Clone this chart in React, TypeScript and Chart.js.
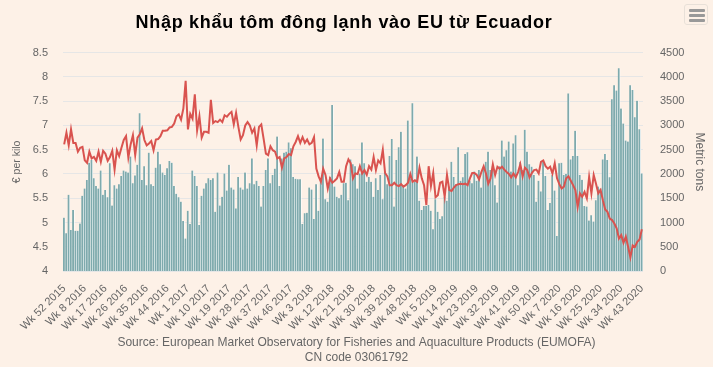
import React, { useEffect, useRef } from 'react';
import { Chart, registerables } from 'chart.js';

Chart.register(...registerables);

const FONT = '"Liberation Sans", Arial, Helvetica, sans-serif';
const TITLE = 'Nhập khẩu tôm đông lạnh vào EU từ Ecuador';
const SOURCE_LINES = [
  'Source: European Market Observatory for Fisheries and Aquaculture Products (EUMOFA)',
  'CN code 03061792',
];
const LEFT_AXIS_TITLE = '€ per kilo';
const RIGHT_AXIS_TITLE = 'Metric tons';

// Weekly categories: Wk 52 2015 ... Wk 43 2020
const START_WEEK = 52;
const START_YEAR = 2015;
const END_WEEK = 43;
const END_YEAR = 2020;
const WEEKS_PER_YEAR: Record<number, number> = { 2015: 53, 2016: 52, 2017: 52, 2018: 52, 2019: 52, 2020: 53 };

function buildWeeks(): string[] {
  const out: string[] = [];
  let w = START_WEEK;
  let y = START_YEAR;
  while (!(y === END_YEAR && w > END_WEEK)) {
    out.push(`Wk ${w} ${y}`);
    w += 1;
    if (w > WEEKS_PER_YEAR[y]) {
      w = 1;
      y += 1;
    }
  }
  return out;
}
const weeks = buildWeeks();

const tickLabels = [
  'Wk 52 2015', 'Wk 8 2016', 'Wk 17 2016', 'Wk 26 2016', 'Wk 35 2016', 'Wk 44 2016',
  'Wk 1 2017', 'Wk 10 2017', 'Wk 19 2017', 'Wk 28 2017', 'Wk 37 2017', 'Wk 46 2017',
  'Wk 3 2018', 'Wk 12 2018', 'Wk 21 2018', 'Wk 30 2018', 'Wk 39 2018', 'Wk 48 2018',
  'Wk 5 2019', 'Wk 14 2019', 'Wk 23 2019', 'Wk 32 2019', 'Wk 41 2019', 'Wk 50 2019',
  'Wk 7 2020', 'Wk 16 2020', 'Wk 25 2020', 'Wk 34 2020', 'Wk 43 2020',
];

const leftTicks = [4, 4.5, 5, 5.5, 6, 6.5, 7, 7.5, 8, 8.5];
const rightTicks = [0, 500, 1000, 1500, 2000, 2500, 3000, 3500, 4000, 4500];

// Import volume, metric tons (bars, right axis)
const volumeTons = [
  1100, 780, 1570, 845, 1260, 830, 830, 980, 1550, 1700,
  1875, 2230, 2290, 1910, 1750, 1700, 2070, 1570, 1670, 1520,
  2220, 1350, 1770, 1700, 1790, 1960, 2070, 2050, 2030, 2360,
  1810, 1970, 2190, 3250, 1875, 2160, 1770, 2440, 1790, 1750,
  2130, 2460, 2200, 2030, 1980, 2120, 2270, 2230, 1750, 1590,
  1520, 1430, 1030, 670, 1240, 970, 2070, 1960, 1750, 950,
  1550, 1700, 1810, 1910, 1875, 1910, 1220, 2030, 1350, 1530,
  2010, 1660, 2190, 1720, 1680, 1290, 1940, 1720, 1680, 2030,
  1700, 1810, 2320, 1790, 1860, 1750, 1330, 1750, 2080, 2320,
  1810, 1980, 2110, 2770, 1750, 2320, 2440, 2460, 2650, 2530,
  1940, 1900, 1890, 1890, 970, 1190, 1200, 1720, 1680, 1070,
  1790, 1240, 1860, 2730, 1480, 1430, 1940, 3420, 1740, 1530,
  1500, 1570, 1810, 1820, 1460, 2300, 2200, 2160, 1700, 2010,
  2650, 2220, 1840, 1940, 1840, 1530, 1910, 1670, 1980, 1480,
  2050, 1790, 2370, 2720, 1330, 2290, 2550, 2870, 1770, 1700,
  3100, 1910, 3460, 1840, 2360, 1450, 1260, 1340, 1340, 1360,
  1240, 860, 1480, 1220, 1070, 1130, 1530, 1450, 1740, 2250,
  1940, 1790, 2550, 1860, 1930, 2410, 2450, 1860, 1810, 2050,
  1860, 2080, 1720, 2140, 2250, 2460, 2080, 2160, 1770, 1410,
  2160, 2690, 2360, 2490, 2670, 2050, 2630, 2800, 1770, 2250,
  2080, 2910, 2460, 2200, 2150, 1980, 1430, 1860, 1640, 2270,
  1960, 1260, 1400, 1980, 1660, 720, 2220, 2230, 1980, 2000,
  3660, 2300, 2370, 2890, 2370, 1980, 1880, 1340, 1330, 1040,
  1150, 1020, 1460, 1740, 1700, 2300, 2410, 2290, 1930, 3540,
  3830, 3720, 4180, 3350, 3040, 2690, 2670, 3830, 3730, 3170,
  3510, 2920, 2010,
];

// Import price, EUR per kilo (line, left axis)
const priceEurKg = [
  6.61, 6.85, 6.59, 6.92, 6.64, 6.64, 6.46, 6.54, 6.56, 6.28,
  6.23, 6.46, 6.32, 6.35, 6.27, 6.46, 6.25, 6.48, 6.42, 6.27,
  6.35, 6.48, 6.09, 6.49, 6.37, 6.54, 6.70, 6.78, 6.34, 6.61,
  6.80, 6.39, 6.75, 6.82, 6.94, 6.70, 6.59, 6.63, 6.68, 6.49,
  6.71, 6.72, 6.78, 6.89, 6.89, 6.90, 6.96, 6.97, 7.04, 7.19,
  7.23, 7.12, 7.35, 7.92, 6.92, 7.24, 7.14, 7.64, 6.90, 7.19,
  6.75, 6.87, 6.87, 6.85, 7.53, 7.05, 7.09, 7.07, 7.12, 7.07,
  7.21, 7.18, 7.24, 7.28, 7.02, 7.26, 6.97, 6.71, 6.80, 7.00,
  7.07, 7.00, 6.85, 6.94, 6.59, 6.97, 7.02, 6.73, 6.42, 6.39,
  6.57, 6.49, 6.46, 6.32, 6.35, 6.13, 6.32, 6.35, 6.41, 6.39,
  6.57, 6.66, 6.78, 6.64, 6.76, 6.64, 6.71, 6.61, 6.64, 6.76,
  6.11, 5.95, 5.84, 6.11, 5.98, 5.70, 5.91, 5.82, 5.86, 5.91,
  6.04, 5.84, 5.84, 6.16, 6.30, 6.22, 5.91, 6.01, 6.00, 6.16,
  6.01, 6.08, 5.98, 6.16, 6.09, 6.35, 6.08, 6.28, 6.22, 6.50,
  6.02, 5.95, 5.77, 5.77, 5.82, 5.77, 5.75, 5.79, 5.74, 5.77,
  5.82, 6.00, 5.84, 5.87, 5.84, 6.13, 5.91, 5.77, 5.36, 6.16,
  5.75, 6.02, 5.52, 5.56, 5.82, 5.84, 5.53, 5.98, 5.67, 5.65,
  5.72, 5.77, 5.79, 5.80, 5.79, 5.80, 5.77, 5.91, 6.02, 6.02,
  5.98, 5.89, 6.04, 6.16, 6.01, 5.80, 5.91, 6.20, 5.98, 6.15,
  6.11, 6.15, 6.09, 6.04, 6.00, 5.93, 6.01, 5.93, 6.04, 6.20,
  5.95, 6.13, 6.08, 5.93, 6.02, 6.08, 6.09, 6.01, 6.25, 6.28,
  6.16, 6.11, 6.15, 6.01, 6.22, 5.91, 5.79, 5.70, 5.74, 5.91,
  5.95, 5.86, 5.77, 5.67, 5.32, 5.60, 5.53, 5.63, 5.50, 5.94,
  5.60, 5.98, 5.80, 5.60, 5.67, 5.46, 5.27, 5.22, 5.08, 5.05,
  4.98, 4.88, 4.67, 4.74, 4.58, 4.71, 4.50, 4.28, 4.53, 4.50,
  4.60, 4.65, 4.86,
];

const tickSet = new Set(tickLabels);

const titlePlugin = {
  id: 'offsetTitle',
  afterDraw(chart: any) {
    const ctx = chart.ctx;
    ctx.save();
    ctx.font = `bold 18px ${FONT}`;
    try {
      (ctx as any).letterSpacing = '0.7px';
    } catch (e) {
      /* ignore */
    }
    ctx.fillStyle = '#000000';
    ctx.textAlign = 'center';
    ctx.textBaseline = 'alphabetic';
    ctx.fillText(TITLE, 344, 27.5);
    ctx.restore();
  },
};

export default function App() {
  const canvasRef = useRef<HTMLCanvasElement | null>(null);

  useEffect(() => {
    if (!canvasRef.current) return;
    const chart = new Chart(canvasRef.current, {
      type: 'bar',
      data: {
        labels: weeks,
        datasets: [
          {
            type: 'line',
            label: 'EUR per kilo',
            data: priceEurKg,
            yAxisID: 'y',
            borderColor: '#d9534f',
            borderWidth: 2,
            pointRadius: 0,
            tension: 0,
            order: 0,
          } as any,
          {
            type: 'bar',
            label: 'Metric tons',
            data: volumeTons,
            yAxisID: 'y1',
            backgroundColor: '#7eaaad',
            borderColor: '#ffffff',
            borderWidth: { top: 0, right: 0.8, bottom: 0, left: 0 },
            borderSkipped: false,
            barPercentage: 1,
            categoryPercentage: 1,
            order: 1,
          } as any,
        ],
      },
      options: {
        responsive: false,
        animation: false,
        events: [],
        layout: { padding: { top: 52.7, left: 0, right: 0, bottom: 0 } },
        plugins: {
          legend: { display: false },
          tooltip: { enabled: false },
          title: { display: false },
          subtitle: {
            display: true,
            position: 'bottom',
            text: SOURCE_LINES,
            color: '#666666',
            font: { size: 12, family: FONT, lineHeight: 1.25, weight: 'normal' },
            padding: { top: 4, bottom: 1.5 },
          },
        },
        scales: {
          x: {
            grid: { display: false },
            border: { display: false },
            ticks: {
              autoSkip: false,
              minRotation: 45,
              maxRotation: 45,
              color: '#666666',
              font: { size: 11, family: FONT },
              padding: 3,
              callback: (_v: any, i: number) => (tickSet.has(weeks[i]) ? weeks[i] : ''),
            },
            afterFit: (s: any) => {
              s.height = 60.5;
            },
          },
          y: {
            position: 'left',
            min: 4,
            max: 8.5,
            afterBuildTicks: (s: any) => {
              s.ticks = leftTicks.map((v) => ({ value: v }));
            },
            ticks: {
              color: '#666666',
              font: { size: 11, family: FONT },
              padding: 15,
              callback: (v: any) => String(v),
            },
            grid: { color: '#e6e6e6', drawTicks: false, lineWidth: 1 },
            border: { display: false },
            title: {
              display: true,
              text: LEFT_AXIS_TITLE,
              color: '#666666',
              font: { size: 10.5, family: FONT },
              padding: { top: 11, bottom: 0 },
            },
            afterFit: (s: any) => {
              s.width = 63;
            },
          },
          y1: {
            position: 'right',
            min: 0,
            max: 4500,
            afterBuildTicks: (s: any) => {
              s.ticks = rightTicks.map((v) => ({ value: v }));
            },
            ticks: {
              color: '#666666',
              font: { size: 11, family: FONT },
              padding: 17,
              callback: (v: any) => String(v),
            },
            grid: { display: false, drawTicks: false },
            border: { display: false },
            title: {
              display: true,
              text: RIGHT_AXIS_TITLE,
              color: '#666666',
              font: { size: 12, family: FONT },
              padding: { top: 6, bottom: 0 },
            },
            afterFit: (s: any) => {
              s.width = 70;
            },
          },
        },
      },
      plugins: [titlePlugin],
    });
    return () => chart.destroy();
  }, []);

  const bar: React.CSSProperties = {
    position: 'absolute',
    left: 4,
    width: 16,
    height: 3,
    background: '#999999',
    borderRadius: 1,
  };

  return (
    <div
      style={{
        position: 'absolute',
        left: 0,
        top: 0,
        width: 713,
        height: 367,
        background: '#fdf1e7',
        overflow: 'hidden',
      }}
    >
      <canvas ref={canvasRef} width={713} height={367} style={{ display: 'block', width: 713, height: 367 }} />
      <div
        style={{
          position: 'absolute',
          left: 684,
          top: 4,
          width: 24,
          height: 21,
          border: '1px solid #e8e0d8',
          borderRadius: 3,
          boxSizing: 'border-box',
        }}
      >
        <div style={{ ...bar, top: 4 }} />
        <div style={{ ...bar, top: 9 }} />
        <div style={{ ...bar, top: 14 }} />
      </div>
    </div>
  );
}
